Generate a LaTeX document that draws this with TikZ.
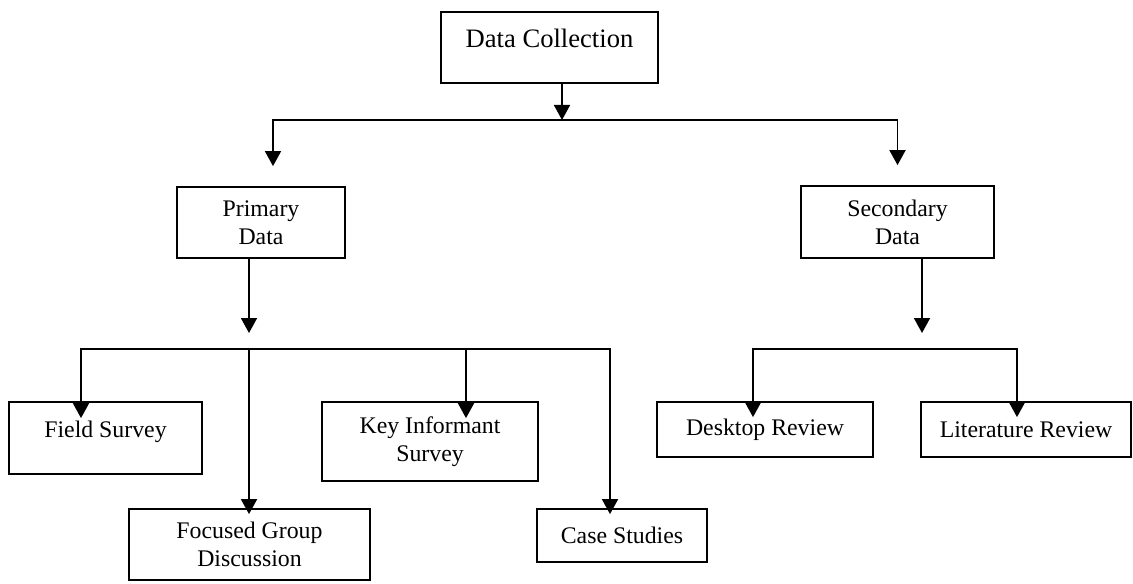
\documentclass[tikz,border=0pt]{standalone}
\usepackage{fontspec}
\setmainfont{Liberation Serif}
\usetikzlibrary{arrows.meta,positioning,calc}

\begin{document}
\begin{tikzpicture}[
    x=0.5pt, y=-0.5pt,
    font=\fontsize{11.9}{14}\selectfont,
    box/.style 2 args={draw, line width=0.9pt, minimum width=#1*0.5pt, minimum height=#2*0.5pt, inner sep=0pt, align=center},
    flow/.style={-{Triangle[width=8pt,length=7.5pt]}, line width=0.9pt},
    short/.style={shorten >=#1},
    into/.style={shorten >=-#1}
]

% lock the page to the reference size
\path[use as bounding box] (0,0) rectangle (1133,583);

% ===== TOP =====
\node[box={217}{71}, text depth=9pt, font=\fontsize{13.3}{16}\selectfont] (dc) at (549.5,47.5) {Data Collection};

% ===== SECOND LEVEL =====
\node[box={168}{71}] (pd) at (261,222.5) {Primary\\Data};
\node[box={193}{72}] (sd) at (897.5,222) {Secondary\\Data};

% ===== PRIMARY METHODS =====
\node[box={193}{72}, text depth=9pt] (fs) at (105.5,438) {Field Survey};
\node[box={241}{71}] (fgd) at (249.5,544.5) {Focused Group\\Discussion};
\node[box={216}{79}] (ki) at (430,441.5) {Key Informant\\Survey};
\node[box={170}{53}] (cs) at (622,535.5) {Case Studies};

% ===== SECONDARY METHODS =====
\node[box={216}{55}] (dr) at (765,429.5) {Desktop Review};
\node[box={210}{55}] (lr) at (1026,429.5) {Literature Review};

% ==== JUNCTIONS ====
\coordinate (tj) at (562,120);
\coordinate (tl) at (273,120);
\coordinate (pj) at (249,349);
\coordinate (pl) at (81,349);
\coordinate (pk) at (466,349);
\coordinate (pr) at (610,349);
\coordinate (sj) at (922,349);
\coordinate (sl) at (753,349);
\coordinate (sr) at (1017,349);

% ===== DATA COLLECTION -> PRIMARY / SECONDARY =====
\draw[flow] (dc.south -| tj) -- (tj);
\draw[flow, short=10pt] (tj) -| (tl |- pd.north);
\draw[flow, short=10pt] (tj) -| (sd.north);

% ===== PRIMARY -> METHODS =====
\draw[flow, short=8pt] (pd.south -| pj) -- (pj);
\draw[flow, into=8.5pt] (pj) -| (pl |- fs.north);
\draw[flow, into=3pt] (pj) -| (pr |- cs.north);
\draw[flow, into=3pt] (pj) -- (pj |- fgd.north);
\draw[flow, into=8.5pt] (pk) -- (pk |- ki.north);

% ===== SECONDARY -> REVIEWS =====
\draw[flow, short=8pt] (sd.south -| sj) -- (sj);
\draw[flow, into=8pt] (sj) -| (sl |- dr.north);
\draw[flow, into=8pt] (sj) -| (sr |- lr.north);

\end{tikzpicture}
\end{document}
